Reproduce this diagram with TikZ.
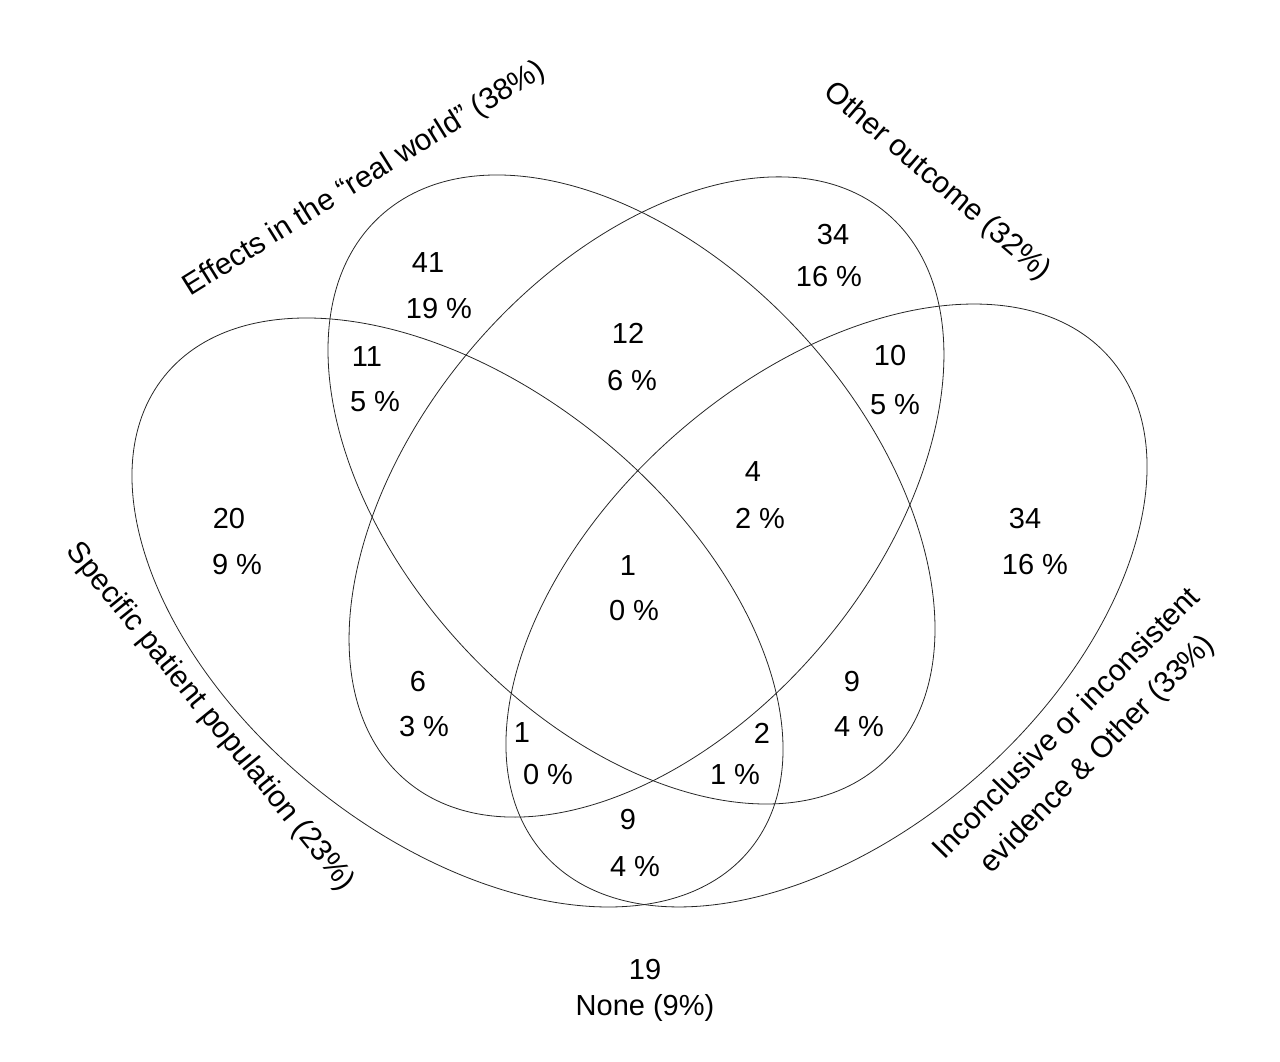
\documentclass[tikz,border=0pt]{standalone}
\usepackage{fontspec}
\setmainfont{Liberation Sans}
\usepackage{tikz}
\tikzset{
	setedge/.style={line width=0.8pt, color=black!85},
	countlab/.style={font={\fontsize{29}{35}\selectfont}, inner sep=0pt},
	catlab/.style={font={\fontsize{30}{43}\selectfont}, inner sep=0pt, align=center}
}

\begin{document}
\begin{tikzpicture}[x=1pt, y=1pt]
			%%%%% START %%%%%
			
			\useasboundingbox (0, 0) rectangle (1280, 1062);
			
			\draw[setedge, rotate around={-38.9:(457.5, 449.5)}] (457.5, 449.5) ellipse [x radius=376.5, y radius=225.6];
			\draw[setedge, rotate around={-47.3:(631.5, 572.5)}] (631.5, 572.5) ellipse [x radius=371.3, y radius=230.5];
			\draw[setedge, rotate around={49.7:(646.5, 565)}] (646.5, 565) ellipse [x radius=371.8, y radius=229.5];
			\draw[setedge, rotate around={41.2:(826.5, 456.5)}] (826.5, 456.5) ellipse [x radius=376.3, y radius=228];
			
			\node[catlab, rotate=31.9] (realworld) at (364.5, 883) {Effects in the “real world” (38\%)};
			\node[catlab, rotate=-40.4] (otheroutcome) at (937, 880) {Other outcome (32\%)};
			\node[catlab, rotate=-50.9] (patients) at (210, 345) {Specific patient population (23\%)};
			\node[catlab, rotate=45.5] (inconclusive) at (1082.5, 322.5) {Inconclusive or inconsistent\\evidence \& Other (33\%)};
			
			\node[countlab] (n41) at (428, 799) {41};
			\node[countlab] (p41) at (439, 753) {19 \%};
			\node[countlab] (n34a) at (833, 827) {34};
			\node[countlab] (p34a) at (829, 785) {16 \%};
			\node[countlab] (n11) at (367, 705) {11};
			\node[countlab] (p11) at (375, 660) {5 \%};
			\node[countlab] (n12) at (628, 729) {12};
			\node[countlab] (p12) at (632, 681) {6 \%};
			\node[countlab] (n10) at (890, 706) {10};
			\node[countlab] (p10) at (895, 657) {5 \%};
			
			\node[countlab] (n20) at (229, 543) {20};
			\node[countlab] (p20) at (237, 497) {9 \%};
			\node[countlab] (n4) at (753, 590) {4};
			\node[countlab] (p4) at (760, 544) {2 \%};
			\node[countlab] (n34b) at (1025, 543) {34};
			\node[countlab] (p34b) at (1035, 497) {16 \%};
			\node[countlab] (n1a) at (628, 496) {1};
			\node[countlab] (p1a) at (634, 451) {0 \%};
			
			\node[countlab] (n6) at (418, 380) {6};
			\node[countlab] (p6) at (424, 335) {3 \%};
			\node[countlab] (n9a) at (852, 380) {9};
			\node[countlab] (p9a) at (859, 335) {4 \%};
			\node[countlab] (n1b) at (522, 329) {1};
			\node[countlab] (p1b) at (548, 287) {0 \%};
			\node[countlab] (n2) at (762, 329) {2};
			\node[countlab] (p2) at (735, 287) {1 \%};
			\node[countlab] (n9b) at (628, 242) {9};
			\node[countlab] (p9b) at (635, 195) {4 \%};
			
			\node[countlab] (n19) at (645, 92) {19};
			\node[countlab] (none) at (645, 54) {None (9\%)};
			
			%%%%% END %%%%%
		\end{tikzpicture}
\end{document}
